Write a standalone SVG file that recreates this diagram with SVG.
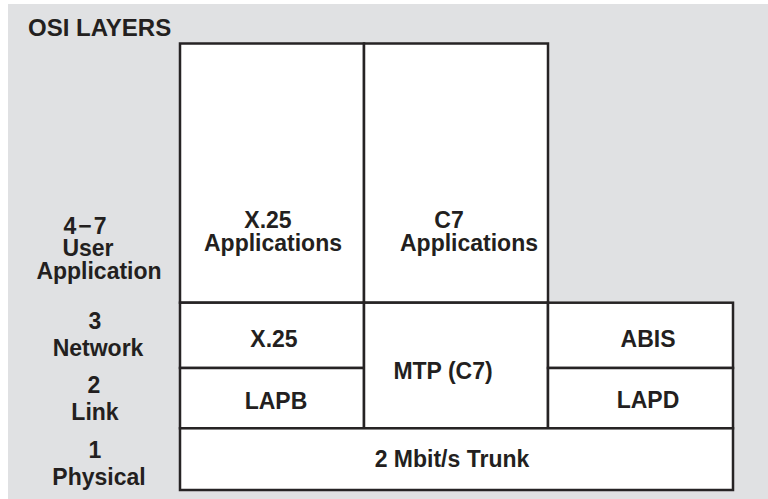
<svg xmlns="http://www.w3.org/2000/svg" width="768" height="499" viewBox="0 0 768 499">
<style>
.bg{fill:#e0e1e3}
.box{fill:#ffffff;stroke:#262324;stroke-width:2.5}
text{font-family:"Liberation Sans",Arial,Helvetica,sans-serif;font-weight:bold;font-size:23px;fill:#231f20;text-anchor:middle}
.title{font-size:24px;text-anchor:start}
</style>
<rect class="bg" x="8" y="4" width="760" height="495"/>
<text class="title" x="28" y="36">OSI LAYERS</text>
<g id="layer-labels">
<text x="86" y="234" letter-spacing="2">4−7</text>
<text x="88" y="256">User</text>
<text x="99" y="279">Application</text>
<text x="95" y="329">3</text>
<text x="98" y="356">Network</text>
<text x="94" y="393">2</text>
<text x="95" y="420">Link</text>
<text x="95" y="458">1</text>
<text x="99" y="485">Physical</text>
</g>
<g id="x25-applications">
<rect class="box" x="180" y="43.5" width="184" height="259.2"/>
<text x="268" y="228">X.25</text>
<text x="273" y="251">Applications</text>
</g>
<g id="c7-applications">
<rect class="box" x="364" y="43.5" width="184" height="259.2"/>
<text x="449" y="228">C7</text>
<text x="469" y="251">Applications</text>
</g>
<g id="x25">
<rect class="box" x="180" y="302.7" width="184" height="65.3"/>
<text x="274" y="347">X.25</text>
</g>
<g id="lapb">
<rect class="box" x="180" y="368" width="184" height="60.3"/>
<text x="276" y="409">LAPB</text>
</g>
<g id="mtp">
<rect class="box" x="364" y="302.7" width="184" height="125.6"/>
<text x="443" y="379">MTP (C7)</text>
</g>
<g id="abis">
<rect class="box" x="548" y="302.7" width="185" height="65.3"/>
<text x="648" y="347">ABIS</text>
</g>
<g id="lapd">
<rect class="box" x="548" y="368" width="185" height="60.3"/>
<text x="648" y="408">LAPD</text>
</g>
<g id="trunk">
<rect class="box" x="180" y="428.3" width="553" height="61.7"/>
<text x="452" y="467">2 Mbit/s Trunk</text>
</g>
<g id="connectors"/>
</svg>
